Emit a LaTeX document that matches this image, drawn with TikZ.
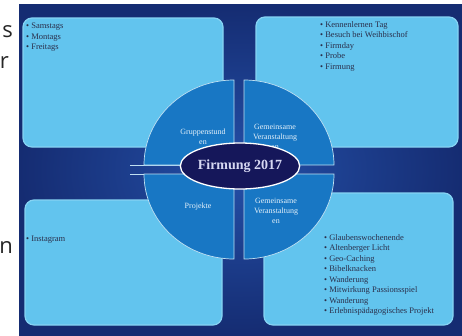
\documentclass[tikz,border=0pt]{standalone}
\usepackage{fontspec}
\setmainfont{Liberation Serif}
\newfontfamily\sidefont{Open Sans}
\usetikzlibrary{shapes.geometric}

\definecolor{slidemid}{HTML}{2450A8}
\definecolor{slideedge}{HTML}{152C72}
\definecolor{boxfill}{HTML}{62C4EE}
\definecolor{boxrim}{HTML}{86D3F3}
\definecolor{quadfill}{HTML}{1877C4}
\definecolor{quadrim}{HTML}{BFE0F2}
\definecolor{hubfill}{HTML}{15175A}
\definecolor{hubtext}{HTML}{D6D8F2}
\definecolor{itemtext}{HTML}{2A2E4A}
\definecolor{qtext}{HTML}{E4F1FA}

\begin{document}
\begin{tikzpicture}[
    x=1pt, y=-1pt,
    box/.style={draw=boxrim, line width=1.2pt, fill=boxfill,
                rounded corners=9pt, inner sep=0pt},
    quad/.style={fill=quadfill, draw=quadrim, line width=0.7pt},
    items/.style={anchor=north west, inner sep=0pt, align=left,
                  text=itemtext, font=\fontsize{8.5}{10.5}\selectfont},
    qlbl/.style={align=center, inner sep=0pt, text=qtext,
                 font=\fontsize{8}{10}\selectfont},
    side/.style={anchor=base east, inner sep=0pt, text=black!85,
                 font=\sidefont\fontsize{22}{22}\selectfont}
  ]
  \useasboundingbox (0,0) rectangle (462,335);
  \fill[white] (0,0) rectangle (462,335);

  % letters of the page behind
  \node[side] (s1) at (13,37) {s};
  \node[side] (s2) at (9,68) {r};
  \node[side] (s3) at (13,253) {n};

  % Slide
  \shade[inner color=slidemid, outer color=slideedge] (19,4.5) rectangle (462,335);

  % Corner boxes
  \node[box, minimum width=200pt, minimum height=129pt] (tl) at (123,82.5) {};
  \node[box, minimum width=202pt, minimum height=130pt] (tr) at (357,82) {};
  \node[box, minimum width=197pt, minimum height=125pt] (bl) at (123.5,262.5) {};
  \node[box, minimum width=189pt, minimum height=132pt] (br) at (358.5,259) {};

  \node[items] (tlitems) at (26,23)
    {\textbullet\ Samstags\\\textbullet\ Montags\\\textbullet\ Freitags};
  \node[items] (tritems) at (320,21)
    {\textbullet\ Kennenlernen Tag\\\textbullet\ Besuch bei Weihbischof\\
     \textbullet\ Firmday\\\textbullet\ Probe\\\textbullet\ Firmung};
  \node[items] (blitems) at (26,236) {\textbullet\ Instagram};
  \node[items] (britems) at (324,234)
    {\textbullet\ Glaubenswochenende\\\textbullet\ Altenberger Licht\\
     \textbullet\ Geo-Caching\\\textbullet\ Bibelknacken\\
     \textbullet\ Wanderung\\\textbullet\ Mitwirkung Passionsspiel\\
     \textbullet\ Wanderung\\\textbullet\ Erlebnispädagogisches Projekt};

  % Circle split into quarters
  \draw[quadrim, line width=0.7pt] (130,165) -- (234,165) (130,174) -- (234,174);
  \draw[quad] (234,165) -- (144,165)
    arc[start angle=180, end angle=90, x radius=90pt, y radius=85pt] -- cycle;
  \draw[quad] (244,165) -- (244,80)
    arc[start angle=90, end angle=0, x radius=90pt, y radius=85pt] -- cycle;
  \draw[quad] (234,174) -- (144,174)
    arc[start angle=180, end angle=270, x radius=90pt, y radius=85pt] -- cycle;
  \draw[quad] (244,174) -- (334,174)
    arc[start angle=0, end angle=-90, x radius=90pt, y radius=85pt] -- cycle;

  \node[qlbl] (grp) at (203,137) {Gruppenstund\\en};
  \node[qlbl] (ver1) at (275,137) {Gemeinsame\\Veranstaltung\\en};
  \node[qlbl] (proj) at (198,207) {Projekte};
  \node[qlbl] (ver2) at (276,211) {Gemeinsame\\Veranstaltung\\en};

  % Hub
  \node[ellipse, draw=white, line width=1.3pt, fill=hubfill,
        minimum width=92pt, minimum height=46pt, inner sep=0pt, text=hubtext,
        font=\fontsize{14}{14}\selectfont\bfseries] (hub) at (240,166) {Firmung 2017};
\end{tikzpicture}
\end{document}
